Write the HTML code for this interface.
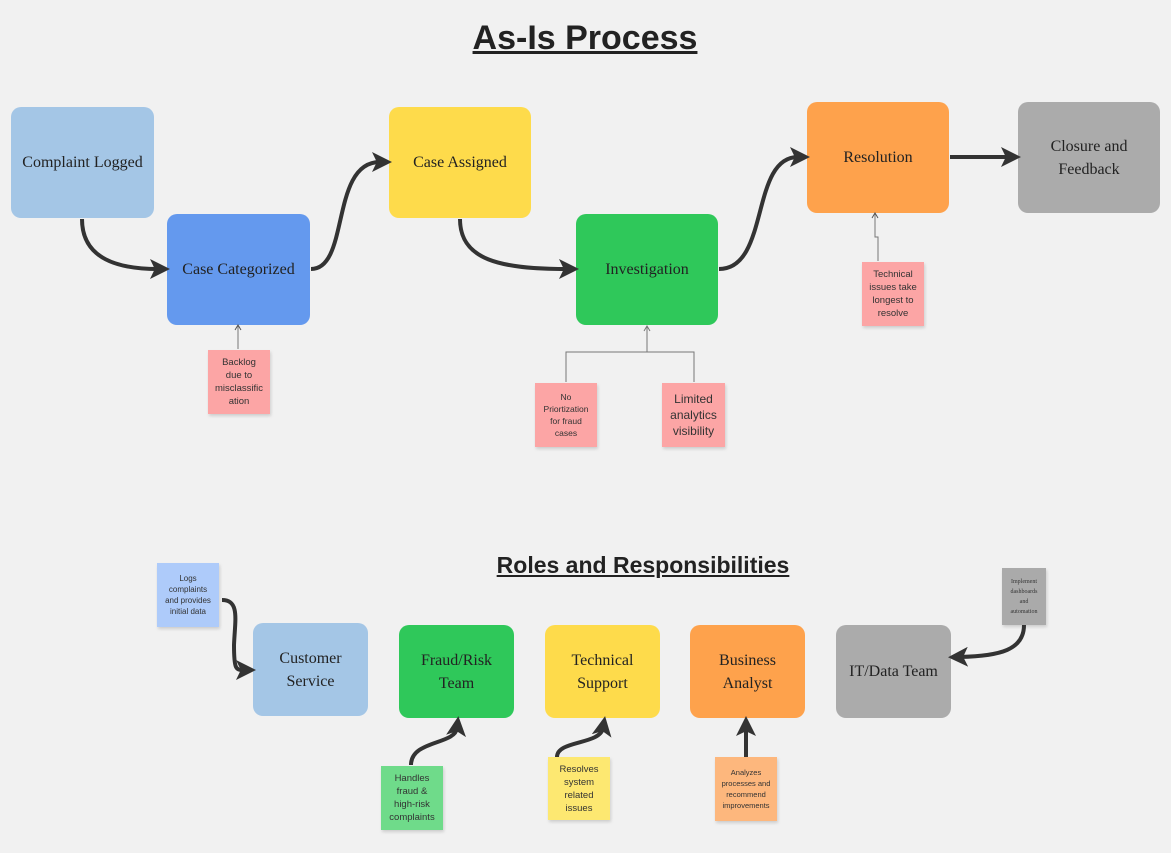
<!DOCTYPE html>
<html><head><meta charset="utf-8"><style>
body{margin:0;width:1171px;height:853px;background:#f1f1f1;position:relative;overflow:hidden;font-family:"Liberation Serif",serif}
.b{position:absolute;border-radius:10px;display:flex;align-items:center;justify-content:center;text-align:center;color:#222;font-size:16px;line-height:23px}
.n{position:absolute;display:flex;align-items:center;justify-content:center;text-align:center;font-family:"Liberation Sans",sans-serif;font-size:9.5px;line-height:13px;color:#333;box-shadow:1px 2px 3px rgba(0,0,0,.15)}
.t{position:absolute;font-family:"Liberation Sans",sans-serif;font-weight:bold;text-decoration:underline;color:#222;text-align:center}
svg{position:absolute;left:0;top:0}
</style></head><body>
<div class="t" style="left:385px;top:16px;width:400px;font-size:34px;line-height:44px">As-Is Process</div>
<div class="t" style="left:443px;top:550px;width:400px;font-size:23px;line-height:30px">Roles and Responsibilities</div>

<div class="b" style="left:11px;top:107px;width:143px;height:111px;background:#a4c6e6">Complaint Logged</div>
<div class="b" style="left:167px;top:214px;width:143px;height:111px;background:#6499ee">Case Categorized</div>
<div class="b" style="left:389px;top:107px;width:142px;height:111px;background:#fedb4b">Case Assigned</div>
<div class="b" style="left:576px;top:214px;width:142px;height:111px;background:#2fc85a">Investigation</div>
<div class="b" style="left:807px;top:102px;width:142px;height:111px;background:#fea24c">Resolution</div>
<div class="b" style="left:1018px;top:102px;width:142px;height:111px;background:#ababab">Closure and<br>Feedback</div>

<div class="n" style="left:208px;top:350px;width:62px;height:64px;background:#fca5a5">Backlog<br>due to<br>misclassific<br>ation</div>
<div class="n" style="left:535px;top:383px;width:62px;height:64px;background:#fca5a5;font-size:8.5px;line-height:12px">No<br>Priortization<br>for fraud<br>cases</div>
<div class="n" style="left:662px;top:383px;width:63px;height:64px;background:#fca5a5;font-size:12px;line-height:16px">Limited<br>analytics<br>visibility</div>
<div class="n" style="left:862px;top:262px;width:62px;height:64px;background:#fca5a5">Technical<br>issues take<br>longest to<br>resolve</div>

<div class="b" style="left:253px;top:623px;width:115px;height:93px;background:#a4c6e6">Customer<br>Service</div>
<div class="b" style="left:399px;top:625px;width:115px;height:93px;background:#2fc85a">Fraud/Risk<br>Team</div>
<div class="b" style="left:545px;top:625px;width:115px;height:93px;background:#fedb4b">Technical<br>Support</div>
<div class="b" style="left:690px;top:625px;width:115px;height:93px;background:#fea24c">Business<br>Analyst</div>
<div class="b" style="left:836px;top:625px;width:115px;height:93px;background:#ababab">IT/Data Team</div>

<div class="n" style="left:157px;top:563px;width:62px;height:64px;background:#aecbfa;font-size:8px;line-height:11px">Logs<br>complaints<br>and provides<br>initial data</div>
<div class="n" style="left:1002px;top:568px;width:44px;height:57px;background:#aaa;font-size:6px;line-height:10px;font-family:'Liberation Serif',serif">Implement<br>dashboards<br>and<br>automation</div>
<div class="n" style="left:381px;top:766px;width:62px;height:64px;background:#6fdb8a">Handles<br>fraud &amp;<br>high-risk<br>complaints</div>
<div class="n" style="left:548px;top:757px;width:62px;height:63px;background:#fde871">Resolves<br>system<br>related<br>issues</div>
<div class="n" style="left:715px;top:757px;width:62px;height:64px;background:#fdb77d;font-size:7.5px;line-height:11px">Analyzes<br>processes and<br>recommend<br>improvements</div>

<svg width="1171" height="853">
<defs><marker id="a" markerWidth="5" markerHeight="5" refX="2" refY="2.5" orient="auto"><path d="M0,0L5,2.5L0,5L1.2,2.5z" fill="#333"/></marker>
<marker id="s" markerWidth="8" markerHeight="8" refX="6" refY="4" orient="auto" markerUnits="userSpaceOnUse"><path d="M2,1L7,4L2,7" fill="none" stroke="#555" stroke-width="1"/></marker></defs>
<g fill="none" stroke="#333" stroke-width="4" marker-end="url(#a)">
<path d="M82,219 C82,260 120,269 158,269"/>
<path d="M311,269 C350,269 330,162 380,162"/>
<path d="M460,219 C460,260 500,269 567,269"/>
<path d="M719,269 C770,269 750,157 798,157"/>
<path d="M950,157 L1009,157"/>
<path d="M222,600 C240,600 235,620 234,645 C234,670 236,670 244,670"/>
<path d="M1024,625 C1024,650 1000,656 960,657"/>
<path d="M411,765 C411,740 455,745 457,728"/>
<path d="M557,757 C557,740 600,745 603,728"/>
<path d="M746,757 L746,728"/>
</g>
<g fill="none" stroke="#777" stroke-width="1">
<path d="M238,349 L238,326" marker-end="url(#s)"/>
<path d="M878,261 L878,237 L875,237 L875,214" marker-end="url(#s)"/>
<path d="M566,382 L566,352 L694,352 L694,382 M647,352 L647,326" />
<path d="M644,331 L647,326 L650,331"/>
</g>
</svg>
</body></html>
